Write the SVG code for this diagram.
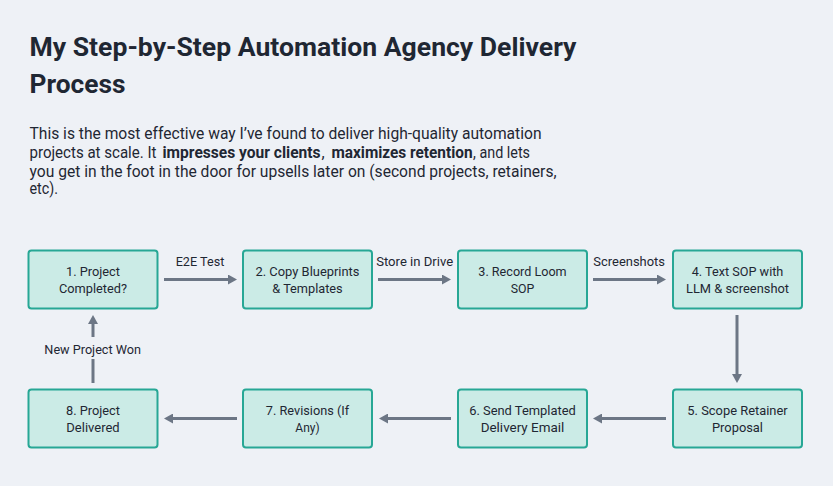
<svg xmlns="http://www.w3.org/2000/svg" width="833" height="486" viewBox="0 0 833 486">
<style>
.bg{fill:#eef1f6}
.title{font-family:Roboto,"Liberation Sans",sans-serif;font-weight:700;font-size:26px;fill:#1f2733}
.para{font-family:Roboto,"Liberation Sans",sans-serif;font-size:16px;fill:#1f2733}
.b{font-weight:700}
.node rect{fill:#cbebe6;stroke:#27a795;stroke-width:2}
.node text,.lbl{font-family:Roboto,"Liberation Sans",sans-serif;font-size:13px;fill:#1f2733;text-anchor:middle}
.edge{stroke:#6c7685;stroke-width:3;fill:none;marker-end:url(#ah)}
</style>
<defs>
<marker id="ah" markerUnits="userSpaceOnUse" viewBox="0 0 9 10" markerWidth="9" markerHeight="10" refX="3" refY="5" orient="auto">
<path d="M0,0 L9,5 L0,10 Z" fill="#6c7685"/>
</marker>
</defs>
<rect class="bg" x="0" y="0" width="833" height="486"/>
<text class="title" x="29.5" y="56" textLength="547" lengthAdjust="spacingAndGlyphs">My Step-by-Step Automation Agency Delivery</text>
<text class="title" x="29.5" y="92.5" textLength="96" lengthAdjust="spacingAndGlyphs">Process</text>
<text class="para" x="29.5" y="139.3" textLength="512" lengthAdjust="spacingAndGlyphs">This is the most effective way I’ve found to deliver high-quality automation</text>
<text class="para" y="158.3"><tspan x="29.5" textLength="127" lengthAdjust="spacingAndGlyphs">projects at scale. It</tspan><tspan class="b" x="162.5" textLength="158" lengthAdjust="spacingAndGlyphs">impresses your clients</tspan><tspan x="321.5">,</tspan><tspan class="b" x="331.5" textLength="141" lengthAdjust="spacingAndGlyphs">maximizes retention</tspan><tspan x="473" textLength="57" lengthAdjust="spacingAndGlyphs">, and lets</tspan></text>
<text class="para" x="29.5" y="176.7" textLength="527" lengthAdjust="spacingAndGlyphs">you get in the foot in the door for upsells later on (second projects, retainers,</text>
<text class="para" x="29.5" y="194.3" textLength="28.5" lengthAdjust="spacingAndGlyphs">etc).</text>

<g id="connectors">
<line class="edge" x1="164" y1="279.5" x2="231" y2="279.5"/>
<line class="edge" x1="378" y1="279.5" x2="445" y2="279.5"/>
<line class="edge" x1="593" y1="279.5" x2="660" y2="279.5"/>
<line class="edge" x1="737" y1="315" x2="737" y2="377"/>
<line class="edge" x1="666" y1="418.5" x2="599" y2="418.5"/>
<line class="edge" x1="451" y1="418.5" x2="385" y2="418.5"/>
<line class="edge" x1="237" y1="418.5" x2="170" y2="418.5"/>
<line class="edge" x1="93" y1="383" x2="93" y2="321"/>
<text class="lbl" x="200" y="266" textLength="48.6" lengthAdjust="spacingAndGlyphs">E2E Test</text>
<text class="lbl" x="414.7" y="266" textLength="77" lengthAdjust="spacingAndGlyphs">Store in Drive</text>
<text class="lbl" x="629.2" y="266" textLength="71.7" lengthAdjust="spacingAndGlyphs">Screenshots</text>
<rect class="bg" x="40" y="337" width="106" height="22"/>
<text class="lbl" x="92.7" y="354" textLength="96.7" lengthAdjust="spacingAndGlyphs">New Project Won</text>
</g>

<g id="n1" class="node"><rect x="28.5" y="250.5" width="129" height="58" rx="3"/>
<text x="93" y="276" textLength="54" lengthAdjust="spacingAndGlyphs">1. Project</text>
<text x="93" y="292.7" textLength="68" lengthAdjust="spacingAndGlyphs">Completed?</text></g>
<g id="n2" class="node"><rect x="243" y="250.5" width="129" height="58" rx="3"/>
<text x="307.5" y="276" textLength="104" lengthAdjust="spacingAndGlyphs">2. Copy Blueprints</text>
<text x="307.5" y="292.7" textLength="70.4" lengthAdjust="spacingAndGlyphs">&amp; Templates</text></g>
<g id="n3" class="node"><rect x="458" y="250.5" width="129" height="58" rx="3"/>
<text x="522.5" y="276" textLength="88.3" lengthAdjust="spacingAndGlyphs">3. Record Loom</text>
<text x="522.5" y="292.7" textLength="23.6" lengthAdjust="spacingAndGlyphs">SOP</text></g>
<g id="n4" class="node"><rect x="673" y="250.5" width="129" height="58" rx="3"/>
<text x="737.5" y="276" textLength="91.7" lengthAdjust="spacingAndGlyphs">4. Text SOP with</text>
<text x="737.5" y="292.7" textLength="103" lengthAdjust="spacingAndGlyphs">LLM &amp; screenshot</text></g>
<g id="n5" class="node"><rect x="673" y="389.5" width="129" height="58" rx="3"/>
<text x="737.5" y="415" textLength="100.3" lengthAdjust="spacingAndGlyphs">5. Scope Retainer</text>
<text x="737.5" y="431.7" textLength="51" lengthAdjust="spacingAndGlyphs">Proposal</text></g>
<g id="n6" class="node"><rect x="458" y="389.5" width="129" height="58" rx="3"/>
<text x="522.5" y="415" textLength="106.7" lengthAdjust="spacingAndGlyphs">6. Send Templated</text>
<text x="522.5" y="431.7" textLength="83.7" lengthAdjust="spacingAndGlyphs">Delivery Email</text></g>
<g id="n7" class="node"><rect x="243" y="389.5" width="129" height="58" rx="3"/>
<text x="307.5" y="415" textLength="83.3" lengthAdjust="spacingAndGlyphs">7. Revisions (If</text>
<text x="307.5" y="431.7" textLength="24.3" lengthAdjust="spacingAndGlyphs">Any)</text></g>
<g id="n8" class="node"><rect x="28.5" y="389.5" width="129" height="58" rx="3"/>
<text x="93" y="415" textLength="54" lengthAdjust="spacingAndGlyphs">8. Project</text>
<text x="93" y="431.7" textLength="53.3" lengthAdjust="spacingAndGlyphs">Delivered</text></g>
</svg>
